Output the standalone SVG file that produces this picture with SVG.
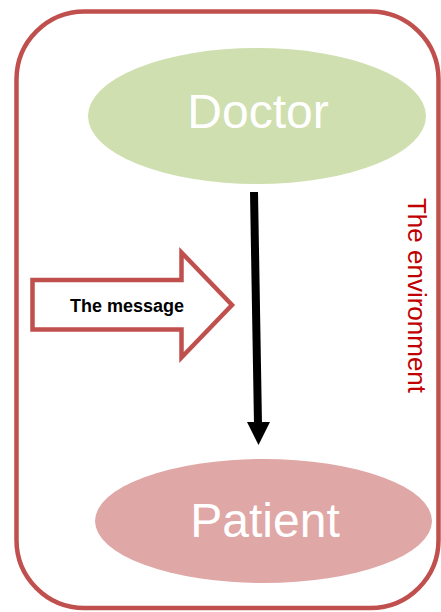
<svg xmlns="http://www.w3.org/2000/svg" width="441" height="612" viewBox="0 0 441 612">
<style>
.lbl{font-family:"Liberation Sans","Open Sans",Arial,sans-serif;fill:#fff;font-size:48px;text-anchor:middle}
.red{stroke:#c0504d;fill:none;stroke-width:4.5}
</style>
<rect width="441" height="612" fill="#fff"/>
<g id="environment">
<rect class="red" x="16.5" y="11.5" width="422" height="596.5" rx="68" ry="68"/>
<text transform="translate(408 295.5) rotate(90)" text-anchor="middle" font-family="Liberation Sans, Arial, sans-serif" font-size="26" fill="#c00000">The environment</text>
</g>
<g id="doctor">
<ellipse cx="257" cy="116" rx="169" ry="68" fill="#cfdfaf"/>
<text class="lbl" x="258" y="128">Doctor</text>
</g>
<g id="patient">
<ellipse cx="263.5" cy="521" rx="168.5" ry="62" fill="#dfa7a6"/>
<text class="lbl" x="265" y="537">Patient</text>
</g>
<g id="message">
<polygon class="red" points="32.5,280 181.5,280 181.5,252.5 232,305 181.5,357.5 181.5,329.5 32.5,329.5" style="fill:#fff"/>
<text x="127" y="312" text-anchor="middle" font-family="Liberation Sans, Arial, sans-serif" font-weight="bold" font-size="18" fill="#000">The message</text>
</g>
<g id="connectors">
<line x1="254" y1="192" x2="258" y2="424" stroke="#000" stroke-width="8"/>
<polygon points="247,422 270,422 258.5,445" fill="#000"/>
</g>
</svg>
